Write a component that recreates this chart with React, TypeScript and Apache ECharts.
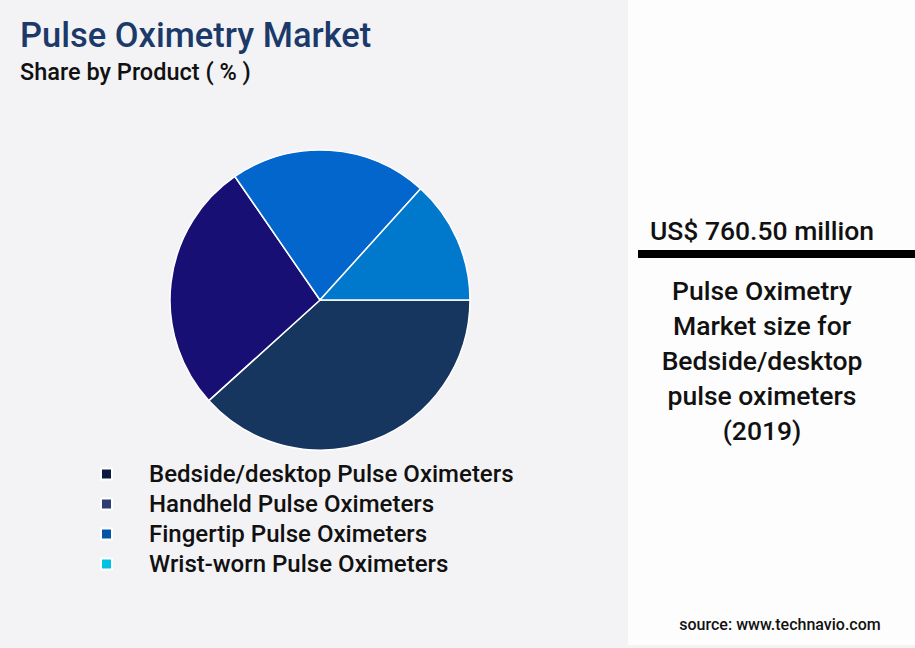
import { useEffect, useRef } from "react";
import * as echarts from "echarts";

const products = [
  "Bedside/desktop Pulse Oximeters",
  "Handheld Pulse Oximeters",
  "Fingertip Pulse Oximeters",
  "Wrist-worn Pulse Oximeters",
];
const shares = [38.3, 27.1, 21.3, 13.3];
const sliceColors = ["#16365f", "#170f73", "#0366cc", "#0078cc"];
const legendColors = ["#0d1a40", "#2c3e73", "#0555a5", "#00c3e3"];
const highlightValue = "US$ 760.50 million";
const highlightCaption = [
  "Pulse Oximetry",
  "Market size for",
  "Bedside/desktop",
  "pulse oximeters",
  "(2019)",
];

const FONT = "Roboto, 'Noto Sans', sans-serif";
const FONT_MEDIUM = "'Roboto Medium', Roboto, 'Noto Sans', sans-serif";

export default function App() {
  const ref = useRef<HTMLDivElement | null>(null);

  useEffect(() => {
    if (!ref.current) return;
    const chart = echarts.init(ref.current, undefined, { renderer: "svg" });

    chart.setOption({
      animation: false,
      backgroundColor: "#f3f3f6",
      textStyle: { fontFamily: FONT },
      title: [
        {
          text: "Pulse Oximetry Market",
          left: 20,
          top: 17,
          padding: 0,
          textStyle: { color: "#1b3a6a", fontSize: 34.5, fontWeight: 500, fontFamily: FONT },
        },
        {
          text: "Share by Product ( % )",
          left: 20,
          top: 60,
          padding: 0,
          textStyle: { color: "#111111", fontSize: 23.5, fontWeight: "normal", fontFamily: FONT_MEDIUM },
        },
      ],
      legend: {
        orient: "vertical",
        left: 100,
        top: 461,
        padding: 0,
        icon: "rect",
        itemWidth: 11,
        itemHeight: 11,
        itemGap: 4,
        selectedMode: false,
        textStyle: {
          color: "#111111",
          fontSize: 24,
          fontWeight: "normal",
          lineHeight: 26,
          fontFamily: FONT_MEDIUM,
          padding: [0, 0, 0, 32],
        },
        data: products.map((name, i) => ({
          name,
          itemStyle: { color: legendColors[i] },
        })),
      },
      graphic: [
        {
          type: "rect",
          shape: { x: 628, y: 0, width: 287, height: 645 },
          style: { fill: "#fdfdfd" },
          z: -1,
        },
        {
          type: "text",
          x: 762,
          y: 230,
          style: {
            text: highlightValue,
            fill: "#111111",
            font: `500 26.5px ${FONT}`,
            textAlign: "center",
            textVerticalAlign: "middle",
          },
        },
        {
          type: "rect",
          shape: { x: 638, y: 250, width: 277, height: 8 },
          style: { fill: "#000000" },
        },
        {
          type: "text",
          x: 762,
          y: 360,
          style: {
            text: highlightCaption.join("\n"),
            fill: "#111111",
            font: `500 26.5px ${FONT}`,
            lineHeight: 35,
            textAlign: "center",
            textVerticalAlign: "middle",
          },
        },
        {
          type: "text",
          x: 780,
          y: 624,
          style: {
            text: "source: www.technavio.com",
            fill: "#111111",
            font: `500 16px ${FONT}`,
            textAlign: "center",
            textVerticalAlign: "middle",
          },
        },
      ],
      series: [
        {
          type: "pie",
          center: [320, 300],
          radius: 150,
          startAngle: 0,
          clockwise: true,
          label: { show: false },
          labelLine: { show: false },
          emphasis: { disabled: true },
          itemStyle: { borderColor: "#ffffff", borderWidth: 1.5 },
          data: products.map((name, i) => ({
            name,
            value: shares[i],
            itemStyle: { color: sliceColors[i] },
          })),
        },
      ],
    });

    return () => chart.dispose();
  }, []);

  return (
    <div
      ref={ref}
      style={{ position: "fixed", left: 0, top: 0, width: 915, height: 648 }}
    />
  );
}
